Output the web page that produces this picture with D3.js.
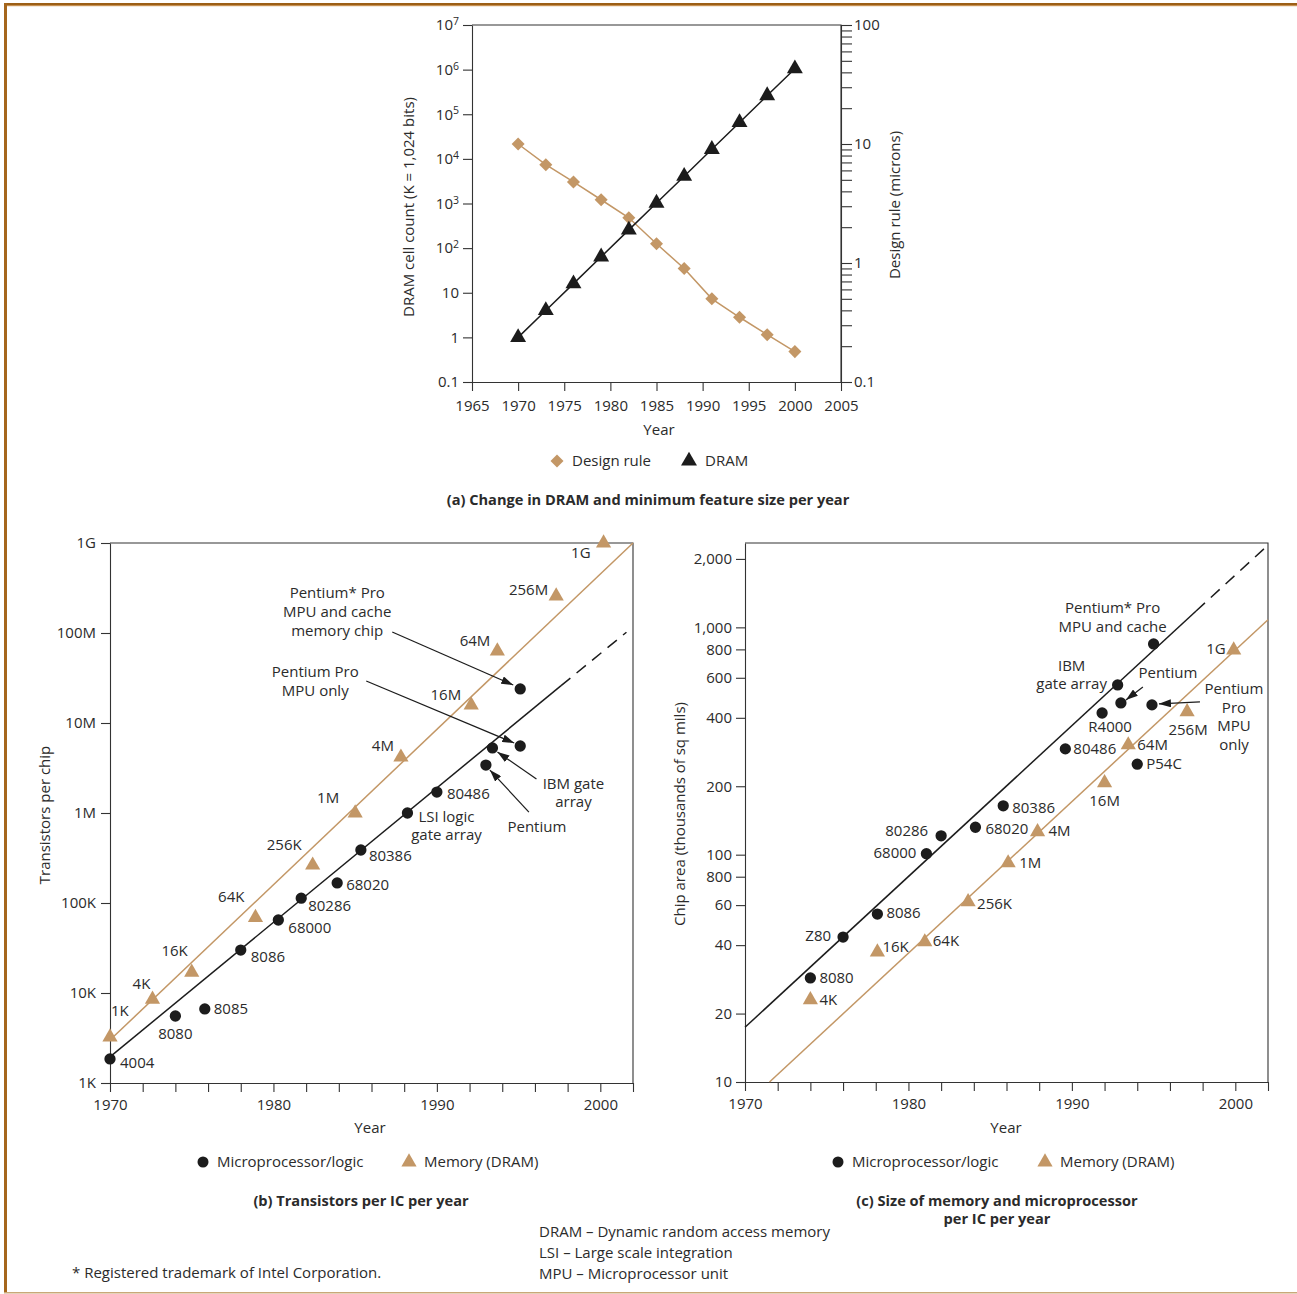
<!DOCTYPE html>
<html>
<head>
<meta charset="utf-8">
<script src="https://cdn.jsdelivr.net/npm/d3@7"></script>
<style>
  body { margin: 0; background: #fff; }
  svg { font-family: "Open Sans", "Noto Sans", sans-serif; font-size: 15px; }
  text { fill: #2b2b2b; }
  .axis path, .axis line { stroke: #333; stroke-width: 1.1; }
  .axis text { font-family: "Open Sans", sans-serif; font-size: 15px; fill: #2b2b2b; }
</style>
</head>
<body>
<script>
const TAN = '#c39766'
const INK = '#1c1c1c'

// ---- (a) DRAM and design rule per year
const yearsA = [1970, 1973, 1976, 1979, 1982, 1985, 1988, 1991, 1994, 1997, 2000]
const dramCellsK = [1, 4, 16, 64, 256, 1024, 4096, 16384, 65536, 262144, 1048576]
const designRuleMicrons = [10, 6.7, 4.8, 3.4, 2.4, 1.45, 0.9, 0.5, 0.35, 0.25, 0.18]
const yearTicksA = [1965, 1970, 1975, 1980, 1985, 1990, 1995, 2000, 2005]
const cellTicksA = [0.1, 1, 10, 1e2, 1e3, 1e4, 1e5, 1e6, 1e7]
const micronTicksA = [0.1, 0.2, 0.3, 0.4, 0.5, 0.6, 0.7, 0.8, 0.9, 1, 2, 3, 4, 5, 6, 7, 8, 9,
                      10, 20, 30, 40, 50, 60, 70, 80, 90, 100]
const micronLabelsA = [0.1, 1, 10, 100]

// ---- (b) transistors per chip
const mpuNamesB = ['4004', '8080', '8085', '8086', '68000', '80286', '68020', '80386',
                   'LSI', '80486', 'IBM', 'Pentium', 'PProOnly', 'PProCache']
const mpuYearsB = [1970, 1974.0, 1975.8, 1978.0, 1980.3, 1981.7, 1983.9, 1985.35,
                   1988.2, 1990.0, 1993.4, 1993.0, 1995.1, 1995.1]
const mpuTransB = [1850, 5550, 6650, 30000, 64700, 113000, 167000, 388000,
                   1000000, 1710000, 5280000, 3410000, 5550000, 23900000]
const dramNamesB = ['1K', '4K', '16K', '64K', '256K', '1M', '4M', '16M', '64M', '256M', '1G']
const dramYearsB = [1970, 1972.6, 1975.0, 1978.9, 1982.4, 1985.0, 1987.8, 1992.1, 1993.7, 1997.3, 2000.2]
const dramTransB = [3240, 8500, 17000, 69000, 263000, 1000000, 4170000, 15800000, 63000000, 257000000, 1000000000]
const mpuTrendYearsB = [1970, 1997.6, 2001.6]
const mpuTrendB = [1950, 26000000, 102000000]
const dramTrendYearsB = [1970, 2002]
const dramTrendB = [3000, 1000000000]
const yearTicksB = [1970, 1972, 1974, 1976, 1978, 1980, 1982, 1984, 1986, 1988, 1990,
                    1992, 1994, 1996, 1998, 2000, 2002]
const yearLabelsB = [1970, 1980, 1990, 2000]
const transTicksB = [1e3, 1e4, 1e5, 1e6, 1e7, 1e8, 1e9]
const transLabelsB = ['1K', '10K', '100K', '1M', '10M', '100M', '1G']

// ---- (c) chip area per year
const mpuNamesC = ['8080', 'Z80', '8086', '68000', '80286', '68020', '80386', '80486',
                   'R4000', 'IBM', 'Pentium', 'P54C', 'PProOnly', 'PProCache']
const mpuYearsC = [1974.0, 1976.0, 1978.1, 1981.1, 1982.0, 1984.1, 1985.8, 1989.6,
                   1991.85, 1992.8, 1993.0, 1994.0, 1994.9, 1995.0]
const mpuAreaC = [28.7, 43.4, 54.8, 101, 121, 132, 164, 292, 420, 558, 465, 250, 456, 845]
const dramNamesC = ['4K', '16K', '64K', '256K', '1M', '4M', '16M', '64M', '256M', '1G']
const dramYearsC = [1974.0, 1978.1, 1981.0, 1983.65, 1986.1, 1987.9, 1992.0, 1993.45, 1997.05, 1999.9]
const dramAreaC = [23, 37.3, 41.3, 62, 92, 126, 207, 304, 425, 795]
const mpuTrendYearsC = [1970, 1997.6, 2002]
const mpuTrendC = [17.4, 1180, 2300]
const dramTrendYearsC = [1971.5, 2002]
const dramTrendC = [10, 1080]
const areaTicksC = [10, 20, 40, 60, 80, 100, 200, 400, 600, 800, 1000, 2000]
const areaLabelsC = ['10', '20', '40', '60', '800', '100', '200', '400', '600', '800', '1,000', '2,000']

// label placement: [dx, dy (text centre), anchor]
const labelPos = {
  b_mpu: {
    '4004': [10, 4, 'start'], '8080': [0, 18, 'middle'], '8085': [9, 0, 'start'],
    '8086': [10, 7, 'start'], '68000': [10, 8, 'start'], '80286': [7, 7, 'start'],
    '68020': [9, 2, 'start'], '80386': [8, 6, 'start'], '80486': [10, 2, 'start']
  },
  b_dram: {
    '1K': [1, -26, 'start'], '4K': [-11, -16, 'middle'], '16K': [-4, -22, 'end'],
    '64K': [-11, -21, 'end'], '256K': [-11, -21, 'end'], '1M': [-16, -15, 'end'],
    '4M': [-7, -12, 'end'], '16M': [-10, -11, 'end'], '64M': [-7, -10, 'end'],
    '256M': [-8, -7, 'end'], '1G': [-13, 10, 'end']
  },
  c_mpu: {
    '8080': [9, 0, 'start'], 'Z80': [-12, -1, 'end'], '8086': [9, -1, 'start'],
    '68000': [-10, -1, 'end'], '80286': [-13, -5, 'end'], '68020': [10, 1, 'start'],
    '80386': [9, 2, 'start'], '80486': [8, 0, 'start'], 'R4000': [8, 14, 'middle'],
    'P54C': [9, -1, 'start']
  },
  c_dram: {
    '4K': [9, 0, 'start'], '16K': [5, -5, 'start'], '64K': [8, -1, 'start'],
    '256K': [9, 2, 'start'], '1M': [11, 0, 'start'], '4M': [11, -1, 'start'],
    '16M': [0, 18, 'middle'], '64M': [9, 0, 'start'], '256M': [1, 18, 'middle'],
    '1G': [-8, -1, 'end']
  }
}

// multi-line notes: text lines around a point, optional arrow (start, end offsets)
const notesB = [
  { target: 'PProCache', lines: ['Pentium* Pro', 'MPU and cache', 'memory chip'], dx: -183, dy: -96, lh: 19, arrow: [-128, -57, -7, -4] },
  { target: 'PProOnly', lines: ['Pentium Pro', 'MPU only'], dx: -205, dy: -74, lh: 19, arrow: [-154, -65, -6, -3] },
  { target: 'IBM', lines: ['IBM gate', 'array'], dx: 81, dy: 36, lh: 18, arrow: [44, 31, 5, 4] },
  { target: 'Pentium', lines: ['Pentium'], dx: 51, dy: 62, lh: 18, arrow: [43, 47, 4, 5] },
  { target: 'LSI', lines: ['LSI logic', 'gate array'], dx: 39, dy: 4, lh: 18 }
]
const notesC = [
  { target: 'PProCache', lines: ['Pentium* Pro', 'MPU and cache'], dx: -41, dy: -36, lh: 19 },
  { target: 'IBM', lines: ['IBM', 'gate array'], dx: -46, dy: -19, lh: 18 },
  { target: 'Pentium', lines: ['Pentium'], dx: 47, dy: -30, lh: 18, arrow: [22, -16, 5, -3] },
  { target: 'PProOnly', lines: ['Pentium', 'Pro', 'MPU', 'only'], dx: 82, dy: -16, lh: 18.5, arrow: [48, -3, 7, -1] }
]

const svg = d3.select('body').append('svg').attr('width', 1297).attr('height', 1294)

// page frame
svg.append('rect').attr('x', 4).attr('y', 3).attr('width', 1293).attr('height', 2).attr('fill', '#9c5f16')
svg.append('rect').attr('x', 4).attr('y', 5).attr('width', 1293).attr('height', 1.2).attr('fill', '#c79152')
svg.append('rect').attr('x', 4).attr('y', 3).attr('width', 3).attr('height', 1290).attr('fill', '#a5661c')
svg.append('rect').attr('x', 4).attr('y', 1292).attr('width', 1293).attr('height', 1.5).attr('fill', '#c9a878')

const defs = svg.append('defs')
defs.append('marker').attr('id', 'arrow')
  .attr('viewBox', '0 0 12 8').attr('refX', 12).attr('refY', 4)
  .attr('markerWidth', 12).attr('markerHeight', 8)
  .attr('markerUnits', 'userSpaceOnUse').attr('orient', 'auto')
  .append('path').attr('d', 'M0,0L12,4L0,8Z').attr('fill', INK)

function label(g, x, y, str, anchor, weight) {
  return g.append('text').attr('x', x).attr('y', y).attr('dy', '0.36em')
    .attr('text-anchor', anchor || 'middle')
    .attr('font-weight', weight || null)
    .text(str)
}

function vlabel(g, x, y, str) {
  return g.append('text').attr('transform', `translate(${x},${y}) rotate(-90)`)
    .attr('dy', '0.36em').attr('text-anchor', 'middle').text(str)
}

function symbols(g, xs, ys, x, y, type, size, fill, rotate) {
  g.append('g').selectAll('path').data(xs)
    .enter().append('path')
      .attr('d', d3.symbol().type(type).size(size))
      .attr('transform', (d, i) => `translate(${x(d)},${y(ys[i])})` + (rotate ? ` rotate(${rotate})` : ''))
      .attr('fill', fill)
}

function line(g, xs, ys, x, y, color, dash) {
  g.append('path')
    .datum(xs.map((d, i) => [d, ys[i]]))
    .attr('d', d3.line().x(d => x(d[0])).y(d => y(d[1])))
    .attr('fill', 'none').attr('stroke', color).attr('stroke-width', 1.5)
    .attr('stroke-dasharray', dash || null)
}

function pointLabels(g, names, xs, ys, x, y, pos) {
  names.forEach((n, i) => {
    const p = pos[n]
    if (!p) return
    label(g, x(xs[i]) + p[0], y(ys[i]) + p[1], n, p[2])
  })
}

function notes(g, list, names, xs, ys, x, y) {
  list.forEach(nt => {
    const i = names.indexOf(nt.target)
    const px = x(xs[i]), py = y(ys[i])
    nt.lines.forEach((s, k) => label(g, px + nt.dx, py + nt.dy + k * nt.lh, s, 'middle'))
    if (nt.arrow) {
      g.append('line')
        .attr('x1', px + nt.arrow[0]).attr('y1', py + nt.arrow[1])
        .attr('x2', px + nt.arrow[2]).attr('y2', py + nt.arrow[3])
        .attr('stroke', INK).attr('stroke-width', 1.2)
        .attr('marker-end', 'url(#arrow)')
    }
  })
}

function frame(g, x, y) {
  const [x0, x1] = x.range(), [y0, y1] = y.range()
  g.append('path').attr('d', `M${x0},${y1}H${x1}V${y0}`)
    .attr('fill', 'none').attr('stroke', '#333').attr('stroke-width', 1.1)
}

// ================= (a) =================
const gA = svg.append('g')
const xA = d3.scaleLinear().domain([1965, 2005]).range([472, 841])
const yA = d3.scaleLog().domain([0.1, 1e7]).range([382, 25])
const yAr = d3.scaleLog().domain([0.1, 100]).range([382, 25])

frame(gA, xA, yA)
gA.append('g').attr('class', 'axis').attr('transform', 'translate(0,382)')
  .call(d3.axisBottom(xA).tickValues(yearTicksA).tickFormat(d3.format('d'))
    .tickSize(9).tickSizeOuter(0).tickPadding(9))
gA.append('g').attr('class', 'axis').attr('transform', 'translate(472,0)')
  .call(d3.axisLeft(yA).tickValues(cellTicksA).tickSize(9).tickSizeOuter(0).tickPadding(4)
    .tickFormat(d => d < 100 ? String(d) : '10'))
  .selectAll('.tick text').each(function (d) {
    const e = Math.round(Math.log10(d))
    if (e >= 2) d3.select(this).append('tspan').attr('dy', '-0.5em').attr('font-size', '10.5px').text(e)
  })
gA.append('g').attr('class', 'axis').attr('transform', 'translate(841,0)')
  .call(d3.axisRight(yAr).tickValues(micronTicksA).tickSize(11).tickSizeOuter(0).tickPadding(2)
    .tickFormat(d => micronLabelsA.includes(d) ? String(d) : ''))

line(gA, yearsA, designRuleMicrons, xA, yAr, TAN)
line(gA, yearsA, dramCellsK, xA, yA, INK)
symbols(gA, yearsA, designRuleMicrons, xA, yAr, d3.symbolSquare, 85, TAN, 45)
symbols(gA, yearsA, dramCellsK, xA, yA, d3.symbolTriangle, 110, INK)

vlabel(gA, 409, 207, 'DRAM cell count (K = 1,024 bits)')
vlabel(gA, 895, 205, 'Design rule (microns)')
label(gA, 659, 430, 'Year')
gA.append('path').attr('d', d3.symbol().type(d3.symbolSquare).size(85))
  .attr('transform', 'translate(557,461) rotate(45)').attr('fill', TAN)
label(gA, 572, 461, 'Design rule', 'start')
gA.append('path').attr('d', d3.symbol().type(d3.symbolTriangle).size(110))
  .attr('transform', 'translate(689,461)').attr('fill', INK)
label(gA, 705, 461, 'DRAM', 'start')
label(gA, 648, 500, '(a) Change in DRAM and minimum feature size per year', 'middle', 'bold')
  .attr('font-size', '14.6px')

// ================= (b) =================
const gB = svg.append('g')
const xB = d3.scaleLinear().domain([1970, 2002]).range([110, 633])
const yB = d3.scaleLog().domain([1e3, 1e9]).range([1083, 543])

frame(gB, xB, yB)
gB.append('g').attr('class', 'axis').attr('transform', 'translate(0,1083)')
  .call(d3.axisBottom(xB).tickValues(yearTicksB).tickSize(9).tickSizeOuter(0).tickPadding(7)
    .tickFormat(d => yearLabelsB.includes(d) ? String(d) : ''))
gB.append('g').attr('class', 'axis').attr('transform', 'translate(110,0)')
  .call(d3.axisLeft(yB).tickValues(transTicksB).tickSize(9).tickSizeOuter(0).tickPadding(5)
    .tickFormat((d, i) => transLabelsB[i]))

line(gB, dramTrendYearsB, dramTrendB, xB, yB, TAN)
line(gB, mpuTrendYearsB.slice(0, 2), mpuTrendB.slice(0, 2), xB, yB, INK)
line(gB, mpuTrendYearsB.slice(1), mpuTrendB.slice(1), xB, yB, INK, '12,8')
symbols(gB, dramYearsB, dramTransB, xB, yB, d3.symbolTriangle, 100, TAN)
symbols(gB, mpuYearsB, mpuTransB, xB, yB, d3.symbolCircle, 100, INK)
pointLabels(gB, mpuNamesB, mpuYearsB, mpuTransB, xB, yB, labelPos.b_mpu)
pointLabels(gB, dramNamesB, dramYearsB, dramTransB, xB, yB, labelPos.b_dram)
notes(gB, notesB, mpuNamesB, mpuYearsB, mpuTransB, xB, yB)

vlabel(gB, 45, 815, 'Transistors per chip')
label(gB, 370, 1128, 'Year')
gB.append('circle').attr('cx', 203).attr('cy', 1162).attr('r', 5.5).attr('fill', INK)
label(gB, 217, 1162, 'Microprocessor/logic', 'start')
gB.append('path').attr('d', d3.symbol().type(d3.symbolTriangle).size(100))
  .attr('transform', 'translate(409,1162)').attr('fill', TAN)
label(gB, 424, 1162, 'Memory (DRAM)', 'start')
label(gB, 361, 1201, '(b) Transistors per IC per year', 'middle', 'bold').attr('font-size', '14.6px')

// ================= (c) =================
const gC = svg.append('g')
const xC = d3.scaleLinear().domain([1970, 2002]).range([745, 1268])
const yC = d3.scaleLog().domain([10, 2350]).range([1082, 543])

frame(gC, xC, yC)
gC.append('g').attr('class', 'axis').attr('transform', 'translate(0,1082)')
  .call(d3.axisBottom(xC).tickValues(yearTicksB).tickSize(9).tickSizeOuter(0).tickPadding(7)
    .tickFormat(d => yearLabelsB.includes(d) ? String(d) : ''))
gC.append('g').attr('class', 'axis').attr('transform', 'translate(745,0)')
  .call(d3.axisLeft(yC).tickValues(areaTicksC).tickSize(9).tickSizeOuter(0).tickPadding(4)
    .tickFormat((d, i) => areaLabelsC[i]))

line(gC, dramTrendYearsC, dramTrendC, xC, yC, TAN)
line(gC, mpuTrendYearsC.slice(0, 2), mpuTrendC.slice(0, 2), xC, yC, INK)
line(gC, mpuTrendYearsC.slice(1), mpuTrendC.slice(1), xC, yC, INK, '12,8')
symbols(gC, dramYearsC, dramAreaC, xC, yC, d3.symbolTriangle, 100, TAN)
symbols(gC, mpuYearsC, mpuAreaC, xC, yC, d3.symbolCircle, 100, INK)
pointLabels(gC, mpuNamesC, mpuYearsC, mpuAreaC, xC, yC, labelPos.c_mpu)
pointLabels(gC, dramNamesC, dramYearsC, dramAreaC, xC, yC, labelPos.c_dram)
notes(gC, notesC, mpuNamesC, mpuYearsC, mpuAreaC, xC, yC)

vlabel(gC, 680, 814, 'Chip area (thousands of sq mils)')
label(gC, 1006, 1128, 'Year')
gC.append('circle').attr('cx', 838).attr('cy', 1162).attr('r', 5.5).attr('fill', INK)
label(gC, 852, 1162, 'Microprocessor/logic', 'start')
gC.append('path').attr('d', d3.symbol().type(d3.symbolTriangle).size(100))
  .attr('transform', 'translate(1045,1162)').attr('fill', TAN)
label(gC, 1060, 1162, 'Memory (DRAM)', 'start')
label(gC, 997, 1201, '(c) Size of memory and microprocessor', 'middle', 'bold').attr('font-size', '14.6px')
label(gC, 997, 1219, 'per IC per year', 'middle', 'bold').attr('font-size', '14.6px')

// footnotes
label(svg, 72, 1273, '* Registered trademark of Intel Corporation.', 'start')
label(svg, 539, 1232, 'DRAM – Dynamic random access memory', 'start')
label(svg, 539, 1253, 'LSI – Large scale integration', 'start')
label(svg, 539, 1274, 'MPU – Microprocessor unit', 'start')
</script>
</body>
</html>
